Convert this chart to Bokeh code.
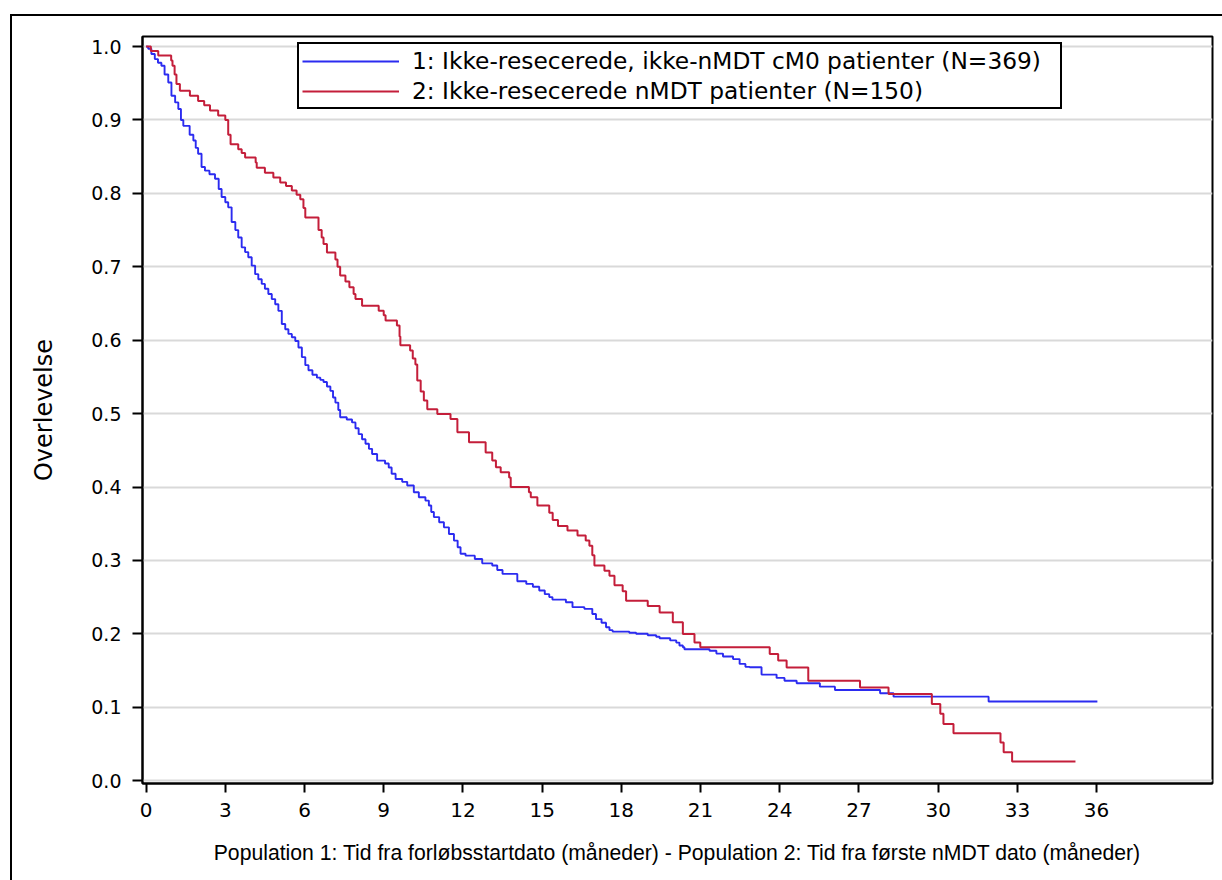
from bokeh.plotting import figure
from bokeh.models import FixedTicker, PrintfTickFormatter, Range1d, Legend, LegendItem
from bokeh.embed import file_html
from bokeh.resources import INLINE

# ---- data ----
blue_label = "1: Ikke-resecerede, ikke-nMDT cM0 patienter (N=369)"
red_label = "2: Ikke-resecerede nMDT patienter (N=150)"

blue_t = [0, 0.08, 0.2, 0.33, 0.45, 0.58, 0.7, 0.84, 0.96, 1.1, 1.22, 1.32, 1.41, 1.65, 1.79, 1.88,
          1.97, 2.1, 2.23, 2.4, 2.61, 2.75, 2.86, 3.0, 3.11, 3.24, 3.38, 3.49, 3.62, 3.75, 3.87, 4.0,
          4.13, 4.25, 4.38, 4.5, 4.63, 4.76, 4.89, 5.01, 5.14, 5.27, 5.39, 5.52, 5.65, 5.77, 5.9,
          6.03, 6.15, 6.3, 6.47, 6.6, 6.72, 6.85, 6.98, 7.08, 7.17, 7.28, 7.35, 7.6, 7.8, 7.93, 8.05,
          8.18, 8.31, 8.44, 8.56, 8.75, 9.05, 9.19, 9.3, 9.45, 9.7, 9.89, 10.14, 10.33, 10.58, 10.71,
          10.8, 10.9, 11.1, 11.28, 11.47, 11.66, 11.8, 11.91, 12.1, 12.45, 12.73, 13.11, 13.3, 13.5,
          14.06, 14.4, 14.65, 14.89, 15.1, 15.27, 15.39, 15.9, 16.15, 16.6, 16.9, 17.04, 17.25, 17.42,
          17.55, 17.67, 18.3, 18.56, 19.0, 19.32, 19.45, 19.85, 20.08, 20.2, 20.33, 20.39, 21.34,
          21.6, 21.85, 22.23, 22.48, 22.7, 22.86, 23.31, 23.88, 24.18, 24.64, 25.52, 26.09, 27.8,
          28.31, 31.91, 36.03]
blue_s = [1.0, 0.997, 0.99, 0.983, 0.978, 0.974, 0.962, 0.951, 0.933, 0.924, 0.915, 0.9, 0.892, 0.88,
          0.872, 0.862, 0.854, 0.836, 0.831, 0.826, 0.82, 0.806, 0.795, 0.788, 0.781, 0.761, 0.75,
          0.74, 0.7265, 0.72, 0.713, 0.7016, 0.69, 0.683, 0.6767, 0.67, 0.663, 0.656, 0.649, 0.64,
          0.622, 0.615, 0.6086, 0.604, 0.599, 0.59, 0.577, 0.566, 0.559, 0.553, 0.549, 0.546, 0.543,
          0.537, 0.531, 0.522, 0.515, 0.505, 0.495, 0.492, 0.488, 0.48, 0.472, 0.465, 0.459, 0.452,
          0.445, 0.436, 0.432, 0.4266, 0.418, 0.411, 0.407, 0.402, 0.3928, 0.386, 0.3815, 0.3747,
          0.366, 0.359, 0.352, 0.345, 0.336, 0.327, 0.318, 0.309, 0.3065, 0.302, 0.296, 0.293, 0.287,
          0.2816, 0.2715, 0.268, 0.264, 0.259, 0.254, 0.25, 0.2466, 0.243, 0.2363, 0.234, 0.227, 0.22,
          0.215, 0.209, 0.205, 0.203, 0.2015, 0.2, 0.198, 0.196, 0.194, 0.191, 0.188, 0.184, 0.1816,
          0.179, 0.177, 0.173, 0.169, 0.1655, 0.159, 0.155, 0.1544, 0.1444, 0.1399, 0.136, 0.1326,
          0.128, 0.1235, 0.119, 0.1144, 0.1078, 0.1078]

red_t = [0, 0.18, 0.46, 0.95, 1.0, 1.08, 1.15, 1.28, 1.66, 1.97, 2.2, 2.42, 2.73, 3.0, 3.11, 3.2, 3.49,
         3.62, 3.75, 4.15, 4.19, 4.5, 4.82, 5.08, 5.3, 5.52, 5.7, 5.84, 5.96, 6.03, 6.53, 6.65, 6.72,
         6.85, 7.17, 7.25, 7.35, 7.55, 7.7, 7.86, 7.93, 8.18, 8.81, 9.0, 9.07, 9.5, 9.6, 9.63, 10.0,
         10.1, 10.2, 10.27, 10.4, 10.52, 10.65, 11.03, 11.53, 11.79, 12.23, 12.86, 13.11, 13.25, 13.43,
         13.75, 13.81, 14.5, 14.57, 14.82, 15.27, 15.4, 15.6, 15.96, 16.34, 16.65, 16.79, 16.9, 16.98,
         17.36, 17.55, 17.74, 18.05, 18.18, 19.0, 19.45, 19.95, 20.33, 20.77, 20.99, 23.62, 23.94,
         24.26, 25.08, 27.04, 28.12, 29.76, 30.08, 30.2, 30.58, 32.36, 32.48, 32.8, 35.2]
red_s = [1.0, 0.994, 0.988, 0.981, 0.974, 0.962, 0.949, 0.94, 0.933, 0.926, 0.92, 0.913, 0.906, 0.9,
         0.88, 0.867, 0.86, 0.855, 0.849, 0.842, 0.835, 0.828, 0.8215, 0.815, 0.81, 0.804, 0.798,
         0.792, 0.78, 0.767, 0.75, 0.74, 0.731, 0.7195, 0.71, 0.7, 0.688, 0.68, 0.672, 0.663, 0.656,
         0.647, 0.64, 0.634, 0.627, 0.62, 0.605, 0.593, 0.586, 0.575, 0.567, 0.545, 0.53, 0.518,
         0.506, 0.4996, 0.4928, 0.4745, 0.461, 0.447, 0.436, 0.427, 0.42, 0.413, 0.4, 0.393, 0.386,
         0.3747, 0.365, 0.355, 0.347, 0.3406, 0.334, 0.327, 0.32, 0.307, 0.293, 0.286, 0.279, 0.266,
         0.258, 0.245, 0.238, 0.229, 0.2157, 0.1998, 0.188, 0.1816, 0.1726, 0.1635, 0.154, 0.136,
         0.127, 0.118, 0.1045, 0.091, 0.077, 0.0645, 0.052, 0.0386, 0.0259, 0.0259]

x_ticks = [0, 3, 6, 9, 12, 15, 18, 21, 24, 27, 30, 33, 36]
y_ticks = [0.0, 0.1, 0.2, 0.3, 0.4, 0.5, 0.6, 0.7, 0.8, 0.9, 1.0]

x_title = "Population 1: Tid fra forløbsstartdato (måneder) - Population 2: Tid fra første nMDT dato (måneder)"
y_title = "Overlevelse"

# ---- figure ----
p = figure(frame_width=1070, frame_height=747, output_backend="svg", toolbar_location=None,
           x_range=Range1d(-0.136, 40.39), y_range=Range1d(-0.00395, 1.01376),
           min_border_left=130, min_border_right=10, min_border_top=20, min_border_bottom=97)
p.margin = (14, 0, 0, 10)
p.styles = {"border-top": "2px solid black", "border-left": "2px solid black"}
p.background_fill_color = "white"
p.border_fill_color = "white"
p.outline_line_color = "black"
p.outline_line_width = 2

p.xgrid.grid_line_color = None
p.ygrid.grid_line_color = "#d9d9d9"
p.ygrid.grid_line_width = 2
p.ygrid.ticker = FixedTicker(ticks=y_ticks)

p.xaxis.ticker = FixedTicker(ticks=x_ticks)
p.yaxis.ticker = FixedTicker(ticks=y_ticks)
p.yaxis.formatter = PrintfTickFormatter(format="%.1f")
for ax in (p.xaxis, p.yaxis):
    ax.axis_line_color = "black"
    ax.axis_line_width = 2
    ax.major_tick_line_color = "black"
    ax.major_tick_line_width = 2
    ax.major_tick_in = 0
    ax.minor_tick_line_color = None
    ax.major_label_text_color = "black"
    ax.axis_label_text_color = "black"
    ax.axis_label_text_font_style = "normal"

p.xaxis.major_tick_out = 9
p.xaxis.major_label_text_font = "DejaVu Sans"
p.xaxis.major_label_text_font_size = "20px"
p.xaxis.major_label_standoff = 10
p.xaxis.axis_label = x_title
p.xaxis.axis_label_text_font = "Liberation Sans"
p.xaxis.axis_label_text_font_size = "21.2px"
p.xaxis.axis_label_standoff = 21

p.yaxis.major_tick_out = 10
p.yaxis.major_label_text_font = "DejaVu Sans"
p.yaxis.major_label_text_font_size = "19px"
p.yaxis.major_label_standoff = 11
p.yaxis.axis_label = y_title
p.yaxis.axis_label_text_font = "DejaVu Sans"
p.yaxis.axis_label_text_font_size = "24px"
p.yaxis.axis_label_standoff = 30

rb = p.step(blue_t, blue_s, mode="after", line_color="#2b2bf0", line_width=1.9)
rr = p.step(red_t, red_s, mode="after", line_color="#c41e3a", line_width=2.0)

legend = Legend(items=[LegendItem(label=blue_label, renderers=[rb]),
                       LegendItem(label=red_label, renderers=[rr])],
                location=(155, 674))
legend.label_text_font = "DejaVu Sans"
legend.label_text_font_size = "23.3px"
legend.label_text_color = "black"
legend.glyph_width = 97
legend.glyph_height = 26
legend.label_height = 26
legend.label_width = 645
legend.label_standoff = 13
legend.spacing = 3
legend.padding = 3
legend.margin = 0
legend.border_line_color = "black"
legend.border_line_alpha = 1
legend.border_line_width = 2
legend.background_fill_color = "white"
legend.background_fill_alpha = 1
p.add_layout(legend)

open("out.html", "w").write(file_html(p, INLINE))
